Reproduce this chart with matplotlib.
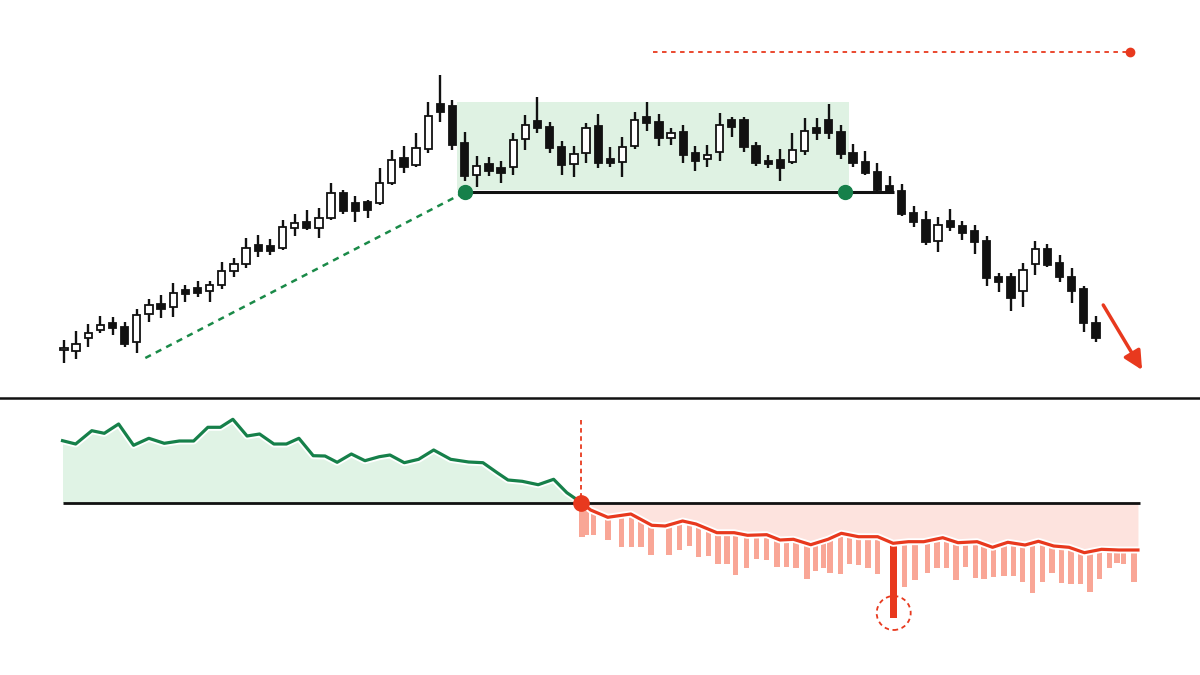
import matplotlib
matplotlib.use("Agg")
import matplotlib.pyplot as plt
import matplotlib.patheffects as pe
from matplotlib.patches import Rectangle, Ellipse
from matplotlib.lines import Line2D

# candle OHLC (price units), one per session
opens = [50.5, 49, 62, 70, 77, 73.3, 58.3, 85.7, 96, 92.7, 110, 112, 109.3, 115, 129.3, 136,
         154.7, 154.3, 152.3, 171.7, 178.3, 172.3, 181.7, 207.3, 196.7, 197.7, 196.7, 216.7,
         241.7, 235, 251, 295.7, 294, 256.7, 225, 236, 232, 232.7, 260.7, 279.3, 272.7, 252.7,
         235.7, 246.7, 274, 241, 238.3, 254, 283.3, 278, 262.3, 268.3, 247.3, 240.7, 248.3,
         280, 280, 254, 239, 240, 238.3, 249.3, 272.3, 280, 268.3, 247.3, 238.3, 228.3, 214,
         209, 186.7, 180, 159, 179.3, 174, 169, 159.3, 123.3, 122.7, 109, 136, 150.7, 136.7,
         123.3, 111, 77.3]
highs = [60, 69, 76, 84, 83, 78, 91.3, 101.3, 105, 117.3, 115, 119.3, 119.3, 138, 141.7, 161.7,
         165, 161, 180, 185.7, 189.7, 191.7, 216.7, 209.7, 204.3, 200, 232.3, 250,
         254, 266.7, 297.7, 325, 300, 268.3, 244, 243.3, 239.3, 266.7, 285, 302.7, 278.3, 259,
         254, 276.7, 286, 253.3, 263.3, 288.3, 298, 286, 271.7, 275, 254, 255, 287.3,
         282.7, 282.7, 258.3, 245, 250.7, 266.7, 281.7, 281.7, 296, 275, 256, 249.3, 236.7, 224,
         216, 194, 189, 182.7, 190.7, 179.3, 174.7, 164, 127.3, 126.7, 136.7, 159, 156, 145,
         131.7, 114, 84]
lows = [37.3, 41, 53, 67, 65, 53.3, 46.7, 78.3, 82, 82.7, 98.3, 102.7, 98.3, 110.7, 122.7, 131.7,
        143.3, 145, 150, 164.3, 170, 162.3, 180, 186, 177.7, 181.7, 195, 215,
        226.7, 233.3, 246.7, 278.3, 250, 219.3, 212.7, 224, 217.3, 225, 250, 266.7, 246.7, 225,
        223.3, 236.7, 231.7, 232.7, 222.7, 250.7, 269.3, 254, 255, 236.7, 229.3, 233.3, 239.3,
        263.3, 248.3, 234, 231.7, 219.3, 236, 245, 260, 260.7, 240.7, 233.3, 225, 206.7, 206,
        184, 173.3, 155, 148.3, 169.3, 160, 146, 114, 108.3, 89.3, 93.3, 125, 133.3, 118.3,
        97.3, 68.3, 58.3]
closes = [51.5, 56, 67, 75, 72, 56, 85.3, 94.7, 90.7, 107.3, 106, 107.3, 114.7, 129.3, 135.7, 151.7,
          149.3, 149.3, 173.3, 177, 171.7, 182.3, 206.7, 189.3, 189.3, 190, 216.7, 240,
          232.7, 251.7, 284.3, 287.7, 255, 224, 234, 229, 226.7, 260, 275, 271.7, 251.7, 235,
          245.7, 271.7, 237.3, 236.7, 253.3, 280, 277.3, 262.3, 267.3, 245, 239.3, 245, 275,
          272.7, 253.3, 237.3, 236, 231.7, 250, 269, 266.7, 267.3, 246, 236.7, 227.3, 210, 207.3,
          186, 178.3, 158.3, 175, 172.7, 167.3, 158.3, 121.7, 118.3, 101.7, 130, 150.7, 135, 122.7,
          109.3, 76.7, 61.7]

# consolidation range and breakdown level
range_start, range_end = 32.4, 64.7
range_low, range_high = 210, 298.5
neckline = 207.7
neck_start, neck_end = 33, 68.4
trend_start = (6.7, 42)
target_level = 348
target_start, target_end = 48.5, 87.8

# oscillator (above zero)
osc_up_t = [-0.12, 0.96, 2.29, 3.32, 4.5, 5.73, 6.99, 8.26, 9.5, 10.68, 11.85, 12.88, 13.91, 15.08,
            16.11, 17.29, 18.32, 19.35, 20.53, 21.5, 22.5, 23.67, 24.79, 25.97, 26.85, 28.03, 29.21,
            30.45, 31.85, 33.33, 34.51, 35.68, 36.57, 37.74, 39.06, 40.33, 41.42, 42.59]
osc_up = [61.8, 58.5, 71.8, 69.2, 78.5, 57.2, 64.2, 59.2, 61.5, 61.5, 75.2, 75.2, 83.2, 66.5,
          68.5, 58.5, 58.5, 64.2, 46.8, 46.5, 40.2, 48.5, 41.8, 45.8, 47.5, 39.8, 43.2,
          52.5, 43.2, 40.5, 39.8, 29.8, 22.5, 21.2, 17.8, 23.2, 9.8, 0]
# oscillator (below zero)
osc_dn_t = [42.59, 43.38, 44.79, 46.69, 48.42, 49.52, 50.95, 52.05, 53.78, 55.2, 56.3, 57.88, 58.98,
            60.08, 61.51, 62.93, 64.03, 65.44, 67.02, 68.29, 69.55, 70.81, 72.38, 73.64, 75.21,
            76.48, 77.74, 79.16, 80.26, 81.52, 82.78, 84.05, 85.46, 86.88, 88.46]
osc_dn = [0, -7.5, -14.8, -11.5, -22.8, -23.5, -18.5, -21.5, -30.2, -30.2, -32.8, -32.2, -37.5,
          -36.8, -42.2, -36.8, -30.8, -34.2, -34.2, -40.8, -39.2, -39.2, -35.2, -40.2, -39.2,
          -44.8, -39.8, -42.5, -38.8, -43.5, -44.8, -50.2, -46.8, -47.5, -47.5]
hist_t = [42.65, 43.06, 43.63, 44.79, 45.9, 46.75, 47.54, 48.36, 49.84, 50.72, 51.52, 52.27, 53.09,
          53.88, 54.61, 55.3, 56.21, 57.03, 57.88, 58.73, 59.52, 60.31, 61.19, 61.91, 62.55, 63.08,
          63.96, 64.72, 65.44, 66.24, 67.02, 68.34, 69.23, 70.11, 71.12, 71.91, 72.7, 73.48, 74.27,
          75.06, 75.78, 76.57, 77.42, 78.21, 78.94, 79.79, 80.58, 81.37, 82.15, 82.94, 83.73, 84.51,
          85.3, 86.1, 86.72, 87.26, 88.14]
hist = [-34.2, -32.5, -32.5, -37.5, -44.2, -44.2, -44.2, -52.5, -52.5, -47.5, -43.5, -54.8, -53.5,
        -61.8, -61.5, -72.5, -65.8, -56.8, -57.5, -64.8, -64.8, -65.8, -76.8, -68.2, -65.8, -70.8,
        -71.8, -61.8, -62.5, -65.8, -71.8, -115.8, -84.2, -77.5, -70.2, -65.8, -65.8, -77.5, -64.2,
        -75.2, -76.8, -74.8, -73.2, -73.2, -79.2, -90.8, -79.2, -70.8, -80.2, -81.8, -81.8, -89.2,
        -76.8, -65.8, -60.8, -61.8, -79.2]
spike_idx = 31

DARK = "#111111"
GREEN = "#16804a"
RED = "#e8391e"
SALMON = "#f9a696"

fig = plt.figure(figsize=(12, 6.75), dpi=100)
xlim = (-5.27, 93.57)

ax = fig.add_axes([0, 1 - 398 / 675, 1, 398 / 675])
ax.set_xlim(*xlim)
ax.set_ylim(2, 400)
ax.axis("off")

ax.add_patch(Rectangle((range_start, range_low), range_end - range_start, range_high - range_low,
                       facecolor="#dff2e3", edgecolor="none", zorder=0))

for i, (o, h, l, c) in enumerate(zip(opens, highs, lows, closes)):
    ax.vlines(i, l, h, color=DARK, lw=1.7, zorder=2)
    up = c >= o
    ax.bar(i, max(abs(c - o), 1.2), bottom=min(o, c), width=0.6,
           facecolor="white" if up else DARK, edgecolor=DARK, linewidth=1.3, zorder=3)

ax.plot([neck_start, neck_end], [neckline, neckline], color=DARK, lw=2.2, zorder=4,
        solid_capstyle="butt")
ax.plot([trend_start[0], neck_start], [trend_start[1], neckline], color="#1a8a48", lw=1.8,
        ls=(0, (2.5, 2.2)), zorder=4)
ax.plot([neck_start, 64.3], [neckline, neckline], "o", color=GREEN, ms=10, zorder=5)

ax.plot([target_start, target_end], [target_level, target_level], color=RED, lw=1.3,
        ls=(0, (2.5, 2.5)), zorder=4)
ax.plot(target_end, target_level, "o", color=RED, ms=6, zorder=5)

ax.annotate("", xy=(88.8, 30), xytext=(85.6, 95),
            arrowprops=dict(arrowstyle="-|>", color=RED, lw=2.5, mutation_scale=28,
                            shrinkA=0, shrinkB=0))

fig.add_artist(Line2D([0, 1], [1 - 398 / 675, 1 - 398 / 675], transform=fig.transFigure,
                      color=DARK, lw=1.8))

# lower panel
bx = fig.add_axes([0, 0, 1, 277 / 675])
bx.set_xlim(*xlim)
bx.set_ylim(-172.5, 104.5)
bx.axis("off")

colors = [RED if k == spike_idx else SALMON for k in range(len(hist))]
widths = [0.6 if k == spike_idx else 0.45 for k in range(len(hist))]
bx.bar(hist_t, hist, width=widths, color=colors, zorder=1)

bx.fill_between(osc_up_t, osc_up, 0, color="#e0f3e5", lw=0, zorder=2)
bx.fill_between(osc_dn_t, osc_dn, 0, color="#fde3de", lw=0, zorder=2)

halo = [pe.Stroke(linewidth=5, foreground="white"), pe.Normal()]
bx.plot(osc_up_t, osc_up, color=GREEN, lw=2.3, solid_joinstyle="round", path_effects=halo, zorder=3)
bx.plot(osc_dn_t, osc_dn, color=RED, lw=2.3, solid_joinstyle="round", path_effects=halo, zorder=3)

bx.plot([-0.08, 88.6], [0, 0], color=DARK, lw=2, zorder=4, solid_capstyle="butt")
bx.plot([42.6, 42.6], [82.5, 0], color=RED, lw=1.3, ls=(0, (2.5, 2)), zorder=4)
bx.plot(42.6, 0, "o", color=RED, ms=11, zorder=6)

bx.add_patch(Ellipse((hist_t[spike_idx], -110.5), 2.8, 34, fill=False, edgecolor=RED,
                     lw=1.3, ls=(0, (2.5, 2)), zorder=6))

fig.savefig("out.png", dpi=100)
